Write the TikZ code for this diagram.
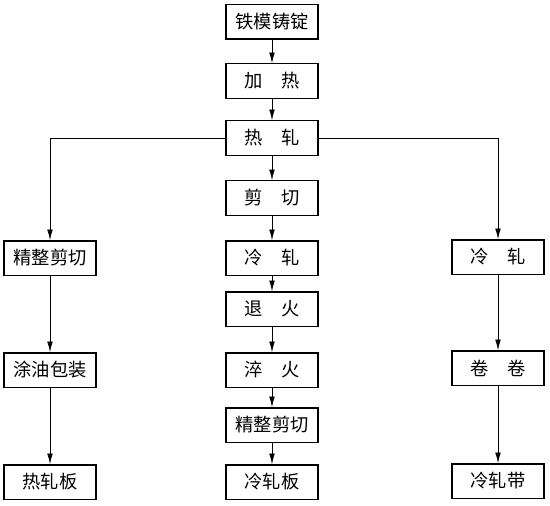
\documentclass[tikz,border=0pt]{standalone}
\usepackage{fontspec}
\newfontfamily\cjk{Noto Sans CJK SC}
\usetikzlibrary{positioning,arrows.meta}
\newcommand{\gap}{\hspace{1em}}

\begin{document}
\begin{tikzpicture}[x=0.025cm,y=-0.025cm,
    every node/.style={font=\cjk\fontsize{13}{15}\selectfont,align=center},
    procbox/.style={draw,line width=1pt,minimum width=2.3cm,minimum height=0.86cm,inner sep=0pt},
    flow/.style={-{Latex[length=7.5pt,width=4pt]},line width=0.45pt}]
    \useasboundingbox (0,0) rectangle (550,505);
    % middle column
    \node[procbox] (ingot) at (272, 22) {铁模铸锭};
    \node[procbox] (heat) at (272, 81) {加\gap 热};
    \node[procbox] (hroll) at (272, 138) {热\gap 轧};
    \node[procbox] (shear) at (272, 198) {剪\gap 切};
    \node[procbox] (croll) at (272, 258) {冷\gap 轧};
    \node[procbox] (anneal) at (272, 309) {退\gap 火};
    \node[procbox] (quench) at (272, 370) {淬\gap 火};
    \node[procbox] (mfinish) at (272, 425) {精整剪切};
    \node[procbox] (csheet) at (272, 482) {冷轧板};
    % left column
    \node[procbox] (lfinish) at (50, 258) {精整剪切};
    \node[procbox] (oiling) at (50, 370) {涂油包装};
    \node[procbox] (hsheet) at (50, 482) {热轧板};
    % right column
    \node[procbox] (rroll) at (498, 257) {冷\gap 轧};
    \node[procbox] (coil) at (498, 368) {卷\gap 卷};
    \node[procbox] (cstrip) at (498, 481) {冷轧带};
    % connectors
    \draw[flow] (ingot) -- (heat);
    \draw[flow] (heat) -- (hroll);
    \draw[flow] (hroll) -- (shear);
    \draw[flow] (shear) -- (croll);
    \draw[flow] (croll) -- (anneal);
    \draw[flow] (anneal) -- (quench);
    \draw[flow] (quench) -- (mfinish);
    \draw[flow] (mfinish) -- (csheet);
    \draw[flow] (hroll.west) -| (lfinish.north);
    \draw[flow] (lfinish) -- (oiling);
    \draw[flow] (oiling) -- (hsheet);
    \draw[flow] (hroll.east) -| (rroll.north);
    \draw[flow] (rroll) -- (coil);
    \draw[flow] (coil) -- (cstrip);
\end{tikzpicture}
\end{document}
